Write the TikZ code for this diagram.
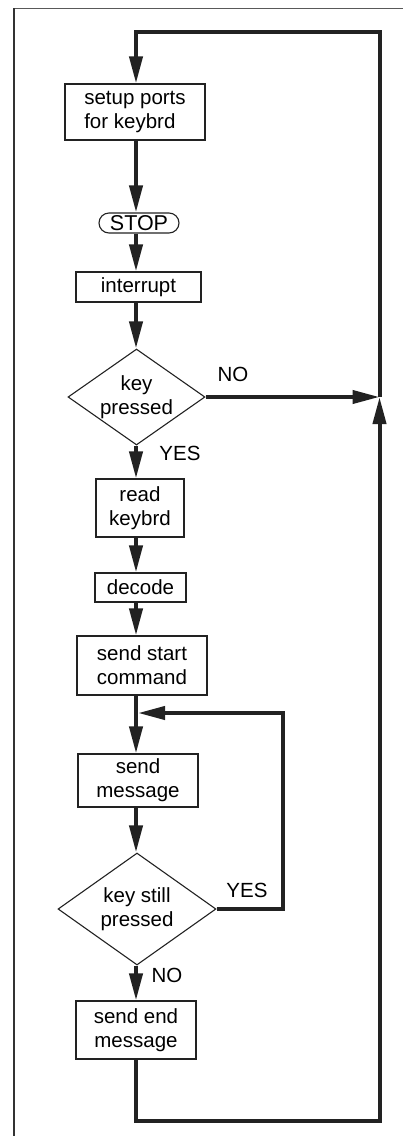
\documentclass[tikz,border=0pt]{standalone}
\usepackage{fontspec}
\setmainfont{Liberation Sans}
\usetikzlibrary{arrows.meta,shapes.geometric}
\definecolor{ink}{HTML}{222222}
\tikzset{
  txt/.style={font=\fontsize{20.5}{24}\selectfont, inner sep=0pt, align=center},
  box/.style={txt, draw=ink, line width=1.1pt, rectangle},
  dia/.style={draw=ink, line width=1.1pt, diamond, inner sep=0pt, shape aspect=1},
  thk/.style={draw=ink, line width=4pt, line join=miter},
  arr/.style={thk, -{Triangle[length=27pt,width=13pt]}},
}
\begin{document}
\begin{tikzpicture}[x=1pt,y=-1pt]
\useasboundingbox (0,0) rectangle (403,1136);
% outer frame
\draw[color=black!65, line width=1pt] (14,8.5) -- (403,8.5);
\draw[color=black!80, line width=1.5pt] (14,8) -- (14,1136);

\coordinate (sp) at (136,0);
\coordinate (jR) at (379.5,397);
\coordinate (tr) at (379.5,31.5);
\coordinate (tl) at (136,31.5);
\coordinate (bl) at (136,1120.5);
\coordinate (br) at (379.5,1120.5);
\coordinate (j2) at (138,713);
\coordinate (yr) at (283,909);
\coordinate (yt) at (283,713);

\node[box, minimum width=140pt, minimum height=56pt, align=left] (setup) at (135,112) {setup ports\\for keybrd};
\node[box, minimum width=80pt, minimum height=20pt, rounded corners=10pt, font=\fontsize{21.5}{24}\selectfont] (stop) at (139,223) {STOP};
\node[box, minimum width=125pt, minimum height=30pt] (intr) at (138.5,287) {interrupt};
\node[dia, minimum width=137pt, minimum height=96pt,
      label={[txt]center:key\\pressed}] (d1) at (136.5,397) {};
\node[box, minimum width=88pt, minimum height=58pt] (read) at (140,508) {read\\keybrd};
\node[box, minimum width=91pt, minimum height=29pt] (dec) at (140.5,587.5) {decode};
\node[box, minimum width=130pt, minimum height=59pt] (start) at (142,665.5) {send start\\command};
\node[box, minimum width=120pt, minimum height=53pt] (msg) at (138,780.5) {send\\message};
\node[dia, minimum width=158pt, minimum height=112pt,
      label={[txt]center:key still\\pressed}] (d2) at (137,909) {};
\node[box, minimum width=120pt, minimum height=58pt] (endm) at (136,1030) {send end\\message};

\node[txt] (no1) at (233,374) {NO};
\node[txt] (yes1) at (180,453) {YES};
\node[txt] (yes2) at (247,890) {YES};
\node[txt] (no2) at (167,975) {NO};

% main spine
\draw[arr] (setup.south -| sp) -- (stop.north -| sp);
\draw[arr] (stop.south -| sp) -- (intr.north -| sp);
\draw[arr] (intr.south -| sp) -- (d1.north -| sp);
\draw[arr] (d1.south -| sp) -- (read.north -| sp);
\draw[arr] (read.south -| sp) -- (dec.north -| sp);
\draw[arr] (dec.south -| sp) -- (start.north -| sp);
\draw[arr] (start.south -| sp) -- (msg.north -| sp);
\draw[arr] (msg.south -| sp) -- (d2.north -| sp);
\draw[arr] (d2.south -| sp) -- (endm.north -| sp);

% outer loop
\draw[arr] (d1.east) -- (jR);
\draw[arr] (endm.south -| sp) -- (bl) -- (br) -- (jR);
\draw[arr] (jR) -- (tr) -- (tl) -- (setup.north -| sp);

% inner loop
\draw[arr] (d2.east) -- (yr) -- (yt) -- (j2);
\end{tikzpicture}
\end{document}
